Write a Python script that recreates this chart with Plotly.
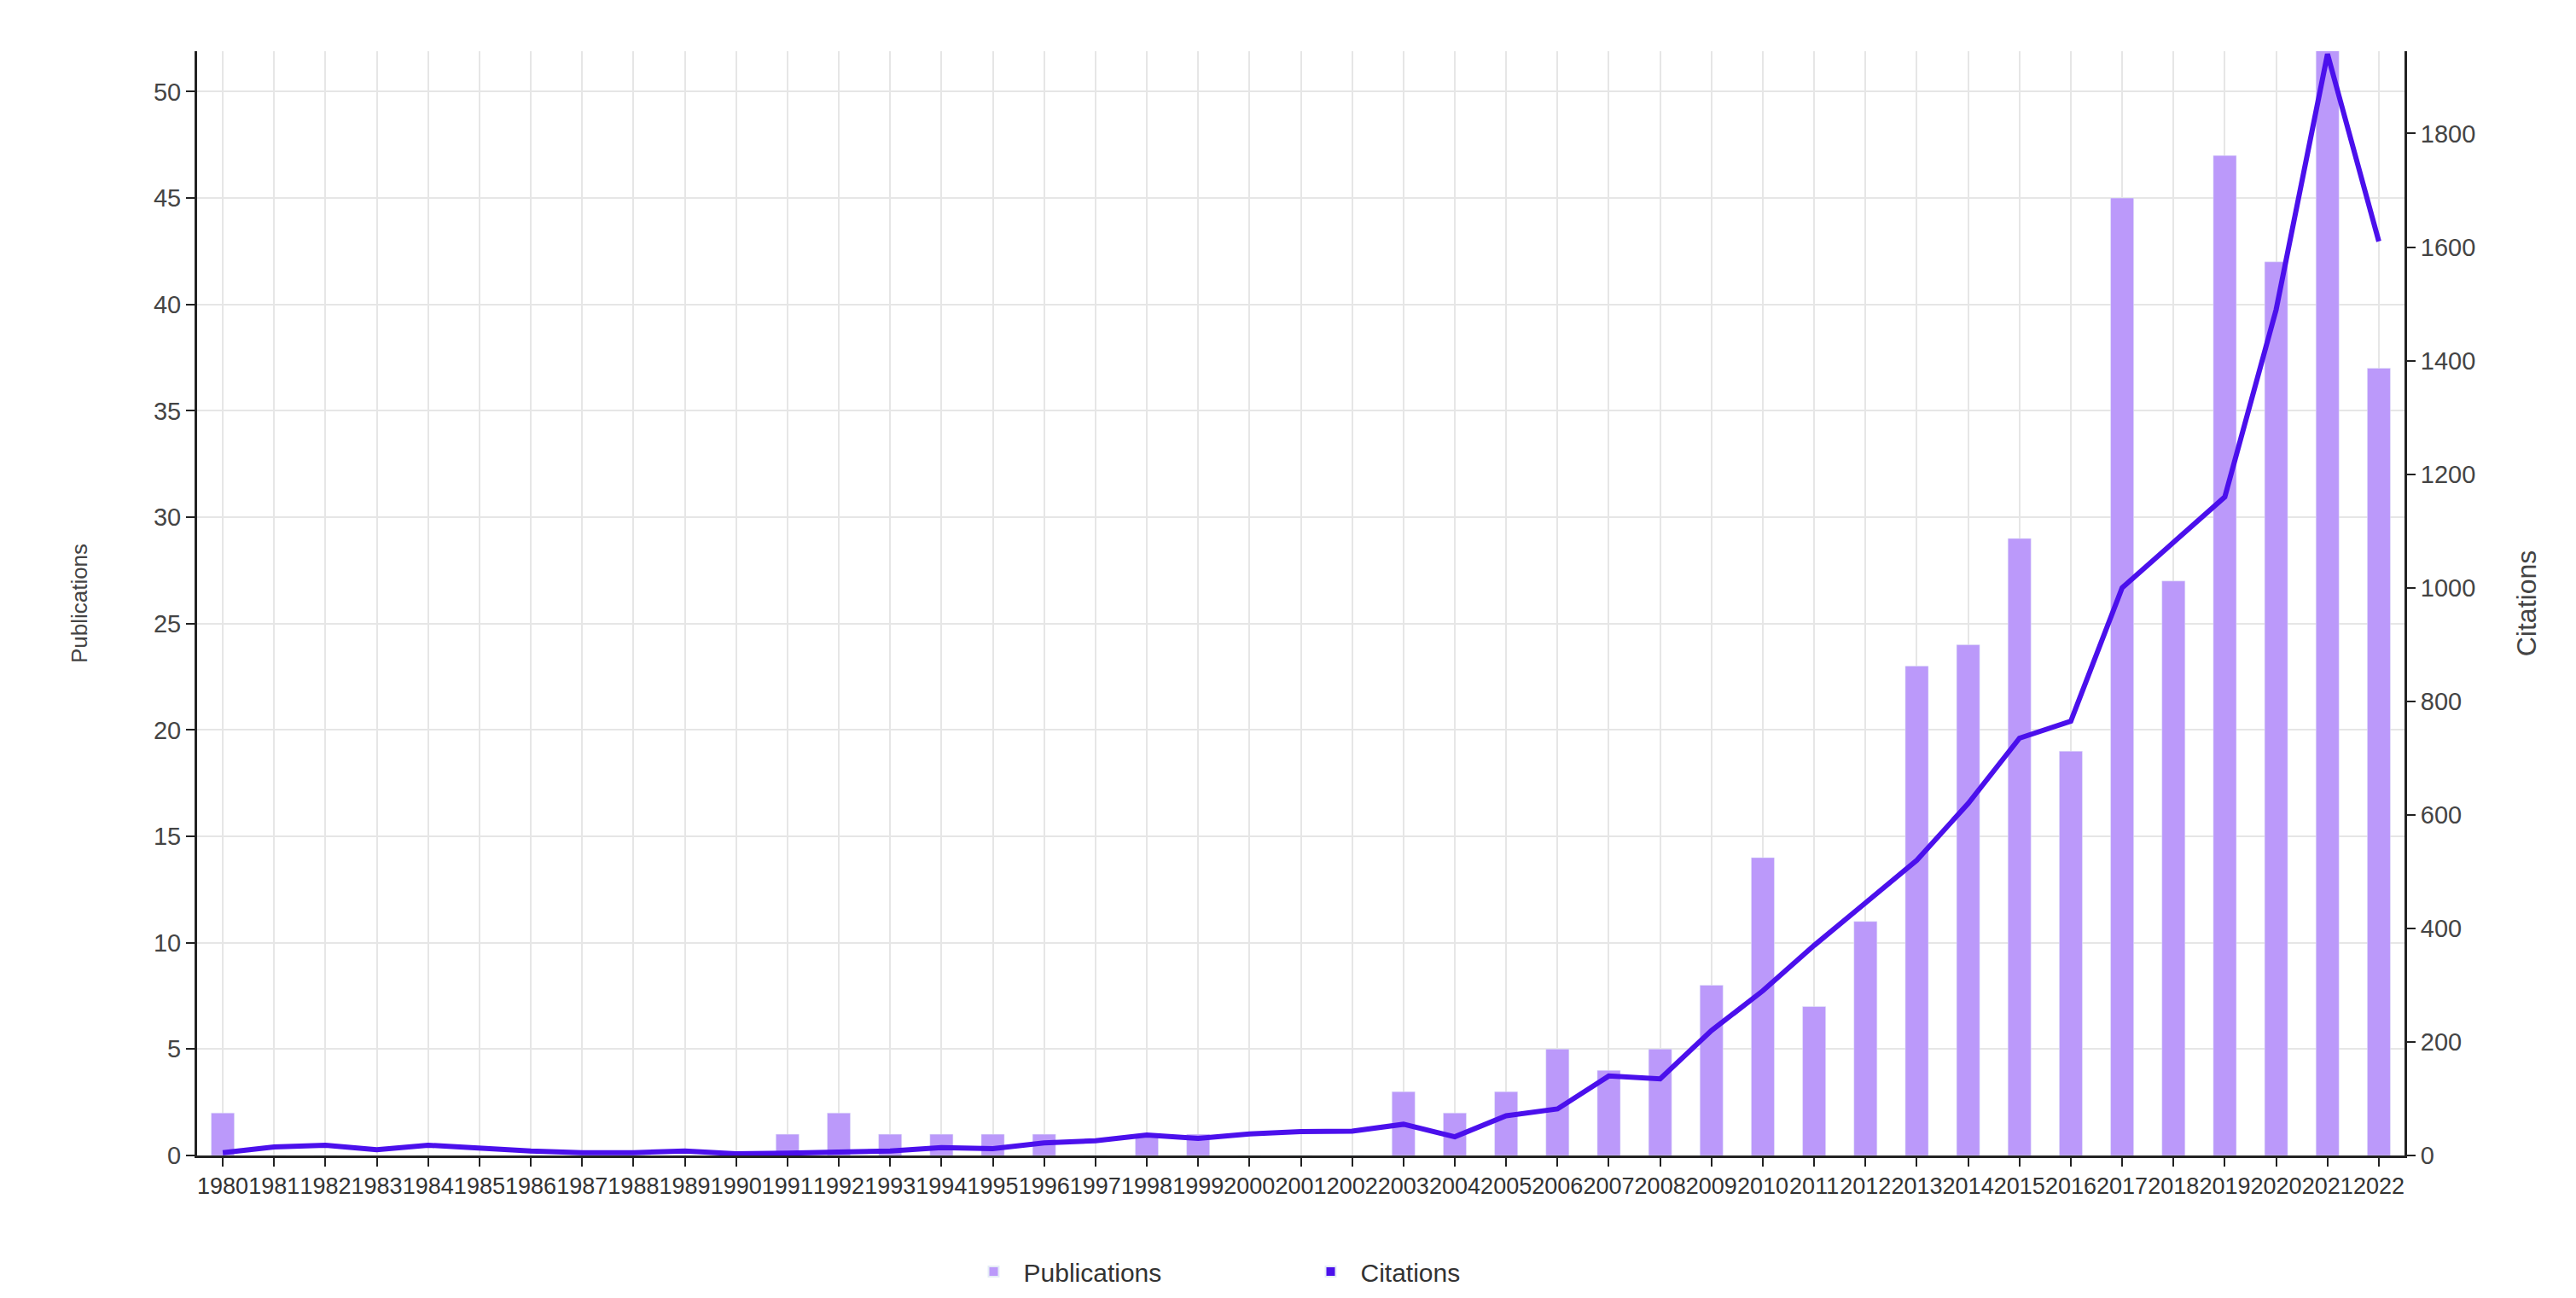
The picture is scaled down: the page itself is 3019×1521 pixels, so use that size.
import plotly.graph_objects as go

years = [str(y) for y in range(1980, 2023)]
publications = [2, 0, 0, 0, 0, 0, 0, 0, 0, 0, 0, 1, 2, 1, 1, 1, 1, 0, 1, 1,
                0, 0, 0, 3, 2, 3, 5, 4, 5, 8, 14, 7, 11, 23, 24, 29, 19, 45, 27, 47,
                42, 54, 37]
citations = [5, 15, 18, 10, 18, 12, 8, 5, 5, 8, 3, 4, 5, 8, 14, 12, 22, 26, 36, 30,
             38, 42, 43, 55, 33, 70, 82, 140, 135, 220, 290, 370, 445, 520, 620, 735, 765, 1000, 1080, 1160,
             1490, 1940, 1610]

fig = go.Figure()
fig.add_trace(go.Bar(x=years, y=publications, name="Publications",
                     marker_color="#bb99fa", width=0.45))
fig.add_trace(go.Scatter(x=years, y=citations, name="Citations", yaxis="y2",
                         mode="lines", line=dict(color="#4b10ec", width=6),
                         showlegend=False))
# square legend swatch for the line series
fig.add_trace(go.Bar(x=[years[0]], y=[None], name="Citations", yaxis="y2",
                     marker_color="#4b10ec", hoverinfo="skip"))

axis_common = dict(showline=True, linecolor="#222", linewidth=3, ticks="outside",
                   ticklen=10, tickwidth=2, tickcolor="#222",
                   gridcolor="#e6e6e6", gridwidth=2)
fig.update_layout(
    width=3019, height=1521,
    plot_bgcolor="white", paper_bgcolor="white",
    font=dict(family="Liberation Sans, Arial", size=28, color="#444"),
    margin=dict(l=223, r=209, t=52, b=175),
    bargap=0.5, barmode="overlay",
    xaxis=dict(**axis_common, type="category", tickangle=0,
               tickfont=dict(size=27, color="#333")),
    yaxis=dict(**axis_common, range=[0, 51.9], dtick=5, zeroline=False,
               tickfont=dict(size=29),
               title=dict(text="Publications", font=dict(size=26, color="#444"), standoff=70)),
    yaxis2=dict(**axis_common, overlaying="y", side="right", range=[0, 1945],
                dtick=200, showgrid=False, zeroline=False, tickfont=dict(size=29),
                title=dict(text="Citations", font=dict(size=32, color="#444"), standoff=50)),
    legend=dict(orientation="h", x=0.5, xanchor="center", y=-0.085, yanchor="top",
                font=dict(size=30, color="#333"), itemwidth=60, entrywidth=320,
                itemsizing="constant"),
)
fig.write_html("out.html")
